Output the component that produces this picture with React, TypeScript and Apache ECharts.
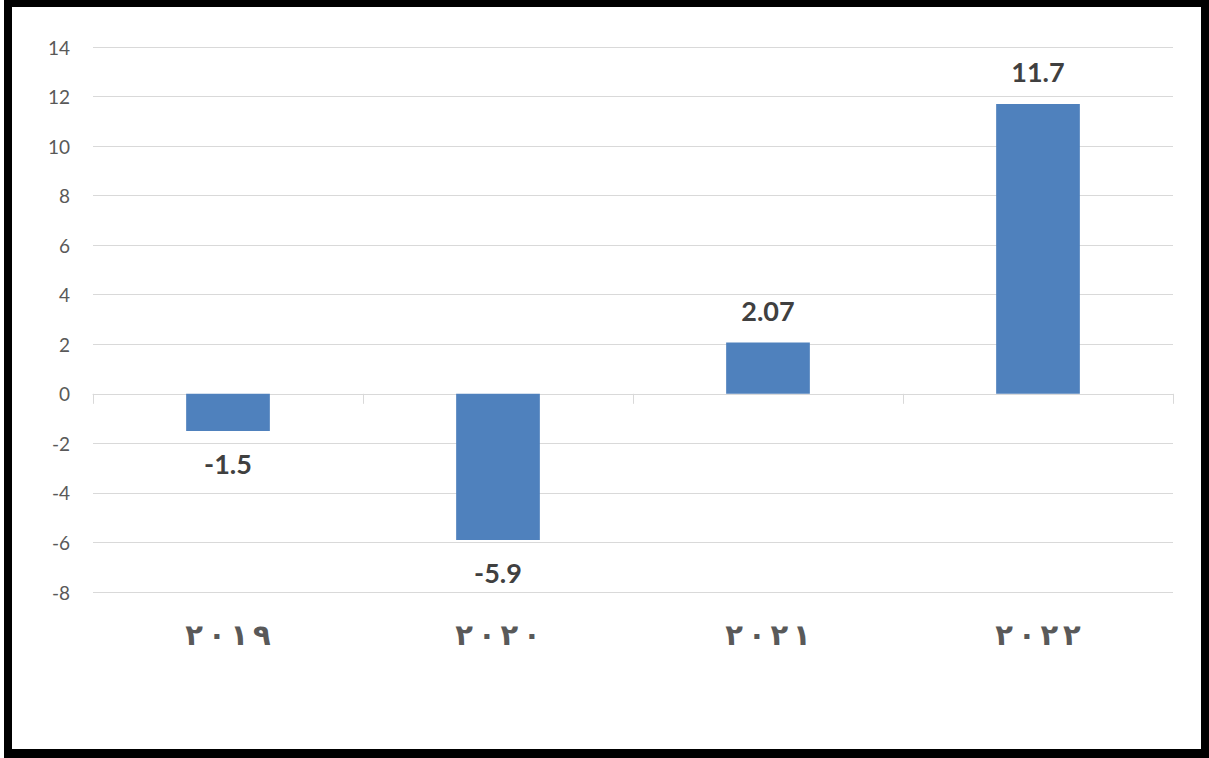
import React, { useEffect, useRef } from "react";
import * as echarts from "echarts";

// Annual growth rate, %
const years = ["٢٠١٩", "٢٠٢٠", "٢٠٢١", "٢٠٢٢"];
const growth = [-1.5, -5.9, 2.07, 11.7];
const yMin = -8;
const yMax = 14;
const yStep = 2;

const W = 1209;
const H = 758;

// Spread the digits apart; the LRM keeps the spaced digits in left-to-right order.
const spaced = (v: string) => Array.from(v).join("\u200E\u2006");

export default function App() {
  const ref = useRef<HTMLDivElement>(null);

  useEffect(() => {
    if (!ref.current) return;
    const chart = echarts.init(ref.current, null, { renderer: "svg" });
    chart.setOption({
      animation: false,
      backgroundColor: "#ffffff",
      grid: { left: 93, right: 36, top: 47, bottom: 166, containLabel: false },
      xAxis: [
        {
          // zero line with boundary ticks
          type: "category",
          data: years,
          axisLine: { onZero: true, lineStyle: { color: "#d9d9d9", width: 1 } },
          axisTick: { show: true, length: 10, interval: 0, lineStyle: { color: "#d9d9d9" } },
          axisLabel: { show: false },
          splitLine: { show: false },
        },
        {
          // year labels along the bottom
          type: "category",
          data: years,
          position: "bottom",
          axisLine: { show: false, onZero: false },
          axisTick: { show: false },
          axisLabel: {
            interval: 0,
            margin: 28,
            fontSize: 29,
            fontWeight: "bold",
            color: "#595959",
            fontFamily: "DejaVu Sans",
            formatter: spaced,
          },
        },
      ],
      yAxis: {
        type: "value",
        min: yMin,
        max: yMax,
        interval: yStep,
        axisLine: { show: false },
        axisTick: { show: false },
        axisLabel: { fontSize: 19, color: "#595959", margin: 23, fontFamily: "Lato" },
        splitLine: { lineStyle: { color: "#d9d9d9", width: 1 } },
      },
      series: [
        {
          type: "bar",
          xAxisIndex: 0,
          data: growth,
          barWidth: "31%",
          itemStyle: { color: "#4f81bd" },
          label: {
            show: true,
            position: "outside",
            distance: 19,
            fontSize: 27,
            fontWeight: "bold",
            color: "#404040",
            fontFamily: "Lato",
          },
        },
      ],
    });
    return () => chart.dispose();
  }, []);

  return (
    <div style={{ position: "fixed", left: 0, top: 0, width: W, height: H, background: "#fff" }}>
      <div ref={ref} style={{ position: "absolute", left: 0, top: 0, width: W, height: H }} />
      <div
        style={{
          position: "absolute",
          left: 4,
          top: 0,
          width: W - 4,
          height: H,
          boxSizing: "border-box",
          borderStyle: "solid",
          borderColor: "#000",
          borderWidth: "7px 8px 9px 8px",
          pointerEvents: "none",
        }}
      />
    </div>
  );
}
